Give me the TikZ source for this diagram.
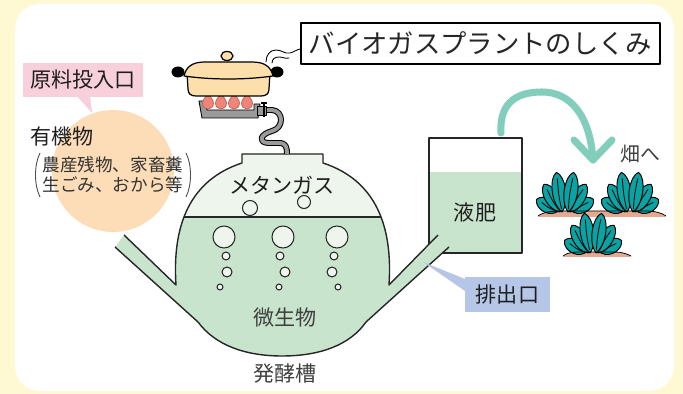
\documentclass[tikz,border=0pt]{standalone}
\usepackage{fontspec}
\setmainfont{Noto Sans CJK JP}

\definecolor{bgyellow}{HTML}{FEF9D3}
\definecolor{peach}{HTML}{FCDDB8}
\definecolor{pinklbl}{HTML}{F8D0DB}
\definecolor{bluelbl}{HTML}{B5C6E6}
\definecolor{gasgreen}{HTML}{EDF5EC}
\definecolor{liquid}{HTML}{C8E4CC}
\definecolor{potbody}{HTML}{FCDFAA}
\definecolor{flamered}{HTML}{EF8579}
\definecolor{arrowgreen}{HTML}{82CDBB}
\definecolor{leafteal}{HTML}{0AA2A2}
\definecolor{soilbrown}{HTML}{E5A891}
\definecolor{hosegray}{HTML}{9A9A9A}

\newcommand{\leaf}[3]{%
  \begin{scope}[shift={(#3,0)},rotate=#1]
    \filldraw[leaf] (0,0) .. controls (-10,-0.25*#2) and (-8,-0.9*#2) .. (0,-#2)
      .. controls (8,-0.9*#2) and (10,-0.25*#2) .. cycle;
    \draw[vein] (0,-3) .. controls (-1,-0.4*#2) .. (0,-#2+6);
  \end{scope}}
\newcommand{\plant}[2]{%
  \begin{scope}[shift={(#1,#2)}]
    \leaf{58}{24}{-8}\leaf{-58}{24}{8}
    \leaf{30}{32}{-5}\leaf{-30}{32}{5}
    \leaf{8}{40}{-3}\leaf{-8}{40}{3}
  \end{scope}}
\newcommand{\fermenter}{(124,235) -- (176,285) .. controls (172,225) and (190,180) .. (242,163)
  -- (242,154) -- (323,154) -- (323,163) .. controls (375,180) and (393,225) .. (389,285)
  -- (438,235) -- (449,247) -- (366,322) .. controls (350,345) and (320,356) .. (282,356)
  .. controls (245,356) and (215,345) .. (198,322) -- (115,247) -- cycle}

\begin{document}
\begin{tikzpicture}[x=0.02cm,y=-0.02cm,line join=round,
  outline/.style={draw=black!85,line width=0.8pt},
  bubble/.style={fill=gasgreen,draw=black!85,line width=0.6pt},
  leaf/.style={fill=leafteal,draw=black,line width=0.55pt},
  vein/.style={draw=black,line width=0.45pt},
  flame/.style={fill=flamered,draw=flamered!75!black,line width=0.4pt},
  burner/.style={fill=hosegray,draw=black,line width=0.5pt},
  hose/.style={double=hosegray,double distance=2.2pt,line width=0.6pt},
  pot/.style={fill=potbody,draw=black,line width=0.7pt},
  steam/.style={draw=black,line width=0.5pt,line cap=round},
  paren/.style={draw=black!70,line width=0.5pt},
  big text/.style={font=\fontsize{12}{14}\selectfont,text=black!88},
  grey text/.style={font=\fontsize{12}{14}\selectfont,text=black!75},
  arrowline/.style={draw=arrowgreen,line width=4pt,line cap=round}]

  \useasboundingbox (0,0) rectangle (683,394);
  \fill[bgyellow] (0,0) rectangle (683,394);
  \fill[white,rounded corners=0.5cm] (15,4) rectangle (674,391);

  \fill[peach] (113,171) circle [radius=61];
  \node[big text,anchor=west] (organic) at (24,137) {有機物};
  \node[align=center,font=\fontsize{10}{11.4}\selectfont,text=black!80] (examples) at (113,175)
    {農産残物、家畜糞\\生ごみ、おから等};
  \draw[paren] (40,153) .. controls (34,165) and (34,185) .. (40,197);
  \draw[paren] (186,153) .. controls (192,165) and (192,185) .. (186,197);

  \coordinate (feed tip) at (92,113);
  \fill[pinklbl] (76,95) -- (90,95) -- (feed tip) -- cycle;
  \node[fill=pinklbl,minimum width=2.4cm,minimum height=0.68cm,inner sep=0,big text] (feed) at (83,80) {原料投入口};

  \fill[liquid] (429,172) rectangle (522,253);
  \node[draw=black!85,line width=0.8pt,minimum width=1.86cm,minimum height=2.3cm,inner sep=0] (fert) at (475.5,195.5) {};
  \node[big text] (fert text) at (475,212) {液肥};

  \fill[liquid] \fermenter;
  \begin{scope}
    \clip \fermenter;
    \fill[gasgreen] (100,140) rectangle (460,217);
    \draw[outline] (100,217) -- (460,217);
  \end{scope}
  \draw[outline] (124,235) -- (176,285) .. controls (172,225) and (190,180) .. (242,163)
    -- (242,154) -- (323,154) -- (323,163) .. controls (375,180) and (393,225) .. (389,285) -- (438,235);
  \draw[outline] (115,247) -- (198,322) .. controls (215,345) and (245,356) .. (282,356)
    .. controls (320,356) and (350,345) .. (366,322) -- (449,247);
  \foreach \x/\y/\r in {250/208/7.5, 304/202/6.5, 224/237/11, 283/237/11, 337/237/11,
      226/256/4, 280/256/4, 334/256/4, 227/272/5, 285/272/5, 332/272/5,
      220/287/3, 279/287/3, 338/287/3}
    \filldraw[bubble] (\x,\y) circle [radius=\r];
  \node[big text] (methane) at (282,185) {メタンガス};
  \node[grey text] (microbe) at (285,317) {微生物};
  \node[grey text] (tank) at (285,374) {発酵槽};

  \coordinate (outlet tip) at (423,262);
  \fill[bluelbl] (outlet tip) -- (465,279) -- (465,291) -- cycle;
  \node[fill=bluelbl,minimum width=1.7cm,minimum height=0.7cm,inner sep=0,big text] (outlet) at (507.5,294.5) {排出口};

  \coordinate (valve) at (266,110);
  \coordinate (gas inlet) at (287,154);
  \draw[hose] (valve) -- (272,110) .. controls (284,111) and (284,128) .. (272,131)
    .. controls (261,134) and (257,142) .. (268,143) -- (279,143)
    .. controls (286,143) and (287,147) .. (gas inlet);
  \filldraw[burner] (199,101) -- (202,118) -- (258,118) -- (260,104) -- (254,104)
    -- (254,110) -- (207,110) -- (205,101) -- cycle;
  \filldraw[burner] (257,106) rectangle (266,115);
  \draw[line width=0.9pt] (264,103) -- (264,117);
  \draw[line width=0.9pt] (261,103) -- (267,103);
  \foreach \x in {208,221,234,247}
    \filldraw[flame] (\x,93) .. controls (\x+1.5,97) and (\x+5.5,99) .. (\x+5.5,103)
      .. controls (\x+5.5,107) and (\x+3,109) .. (\x,109) .. controls (\x-3,109) and (\x-5.5,107) .. (\x-5.5,103)
      .. controls (\x-5.5,99) and (\x-1.5,97) .. cycle;
  \fill (178,72) ellipse [x radius=6.5,y radius=5.5];
  \fill (277,72) ellipse [x radius=6.5,y radius=5.5];
  \filldraw[pot] (187,73) -- (188,89) .. controls (188,94) and (191,96) .. (196,96) -- (261,96)
    .. controls (266,96) and (269,94) .. (269,89) -- (270,73) -- cycle;
  \filldraw[pot] (227,56) ellipse [x radius=6,y radius=4.5];
  \filldraw[pot] (184,76) .. controls (186,67) and (192,62) .. (205,62) -- (252,62)
    .. controls (265,62) and (271,67) .. (273,76) .. controls (245,80) and (212,80) .. cycle;
  \draw[steam] (266,62) .. controls (266,55) and (270,50) .. (276,50) .. controls (282,50) and (284,54) .. (290,53)
    .. controls (294,52) and (296,50) .. (300,49);
  \draw[steam] (272,63) .. controls (272,59) and (275,57) .. (279,57) .. controls (283,57) and (285,59) .. (289,58);

  \node[draw,line width=1.2pt,minimum width=7.18cm,minimum height=0.82cm,inner sep=0,
    font=\fontsize{15}{17}\selectfont,text=black!85] (title) at (480.5,43.5) {バイオガスプラントのしくみ};

  \coordinate (lift) at (501,133);
  \coordinate (drop) at (593,160);
  \draw[arrowline] (lift) .. controls (499,100) and (520,92) .. (542,92)
    .. controls (570,92) and (590,115) .. (drop);
  \draw[arrowline] (574,140) -- (drop) -- (612,140);
  \node[font=\fontsize{11.3}{13}\selectfont,text=black!75] (field) at (640,154) {畑へ};

  \fill[soilbrown] (538,217) .. controls (545,211) and (555,211) .. (565,211) -- (645,211)
    .. controls (655,211) and (662,213) .. (666,217) -- cycle;
  \fill[soilbrown] (563,257) .. controls (568,252) and (575,252) .. (582,252) -- (615,252)
    .. controls (622,252) and (627,254) .. (631,257) -- cycle;
  \plant{565}{212}
  \plant{630}{212}
  \plant{593}{253}
  \draw[vein] (538,216) .. controls (545,211) and (555,211) .. (565,211) -- (645,211)
    .. controls (655,211) and (662,213) .. (666,216);
  \draw[vein] (563,256) .. controls (568,252) and (575,252) .. (582,252) -- (615,252)
    .. controls (622,252) and (627,254) .. (631,256);
\end{tikzpicture}
\end{document}
